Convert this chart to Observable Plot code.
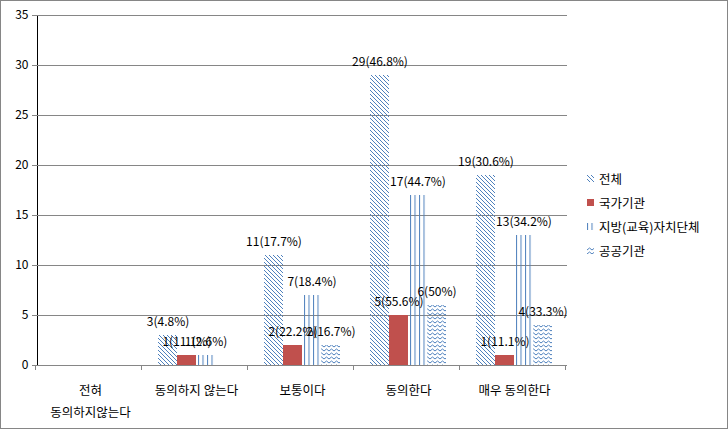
<!DOCTYPE html>
<html><head><meta charset="utf-8">
<script src="https://cdn.jsdelivr.net/npm/d3@7"></script>
<script src="https://cdn.jsdelivr.net/npm/@observablehq/plot@0.6"></script>
<style>
body{margin:0;background:#fff;}
#wrap{position:relative;width:728px;height:429px;font-family:"Noto Sans CJK KR",sans-serif;}
#wrap > svg{display:block;outline:1px solid #868686;outline-offset:-1px;}
#legend{position:absolute;left:587px;top:166px;font-size:12.5px;color:#000;}
#legend .item{display:flex;align-items:center;height:24px;white-space:nowrap;}
#legend .item svg{margin-right:5px;}
g[aria-label^="y-axis"] line, g[aria-label^="y-axis"] path{stroke:#868686;}
g[aria-label^="y-axis"] text{fill:#000;}
</style></head><body>
<svg width="0" height="0" style="position:absolute">
  <defs>
    <pattern id="p-all" patternUnits="userSpaceOnUse" width="4" height="4">
      <path d="M0,0 L4,4 M-1,3 L1,5 M3,-1 L5,1" stroke="#4F81BD" stroke-width="1"/>
    </pattern>
    <pattern id="p-local" patternUnits="userSpaceOnUse" width="4.5" height="4">
      <path d="M0.5,0 V4" stroke="#4F81BD" stroke-width="1"/>
    </pattern>
    <pattern id="p-public" patternUnits="userSpaceOnUse" width="5" height="4">
      <path d="M0,3 L2.5,1 L5,3" fill="none" stroke="#4F81BD" stroke-width="1"/>
    </pattern>
  </defs>
</svg>
<div id="wrap"><div id="legend"></div></div>
<script>
const categories = ["전혀\n동의하지않는다", "동의하지 않는다", "보통이다", "동의한다", "매우 동의한다"];
const seriesNames = ["전체", "국가기관", "지방(교육)자치단체", "공공기관"];
const valTotal    = [0, 3, 11, 29, 19];
const valNational = [0, 1, 2, 5, 1];
const valLocal    = [0, 1, 7, 17, 13];
const valPublic   = [0, 0, 2, 6, 4];
const pctTotal    = [0, 4.8, 17.7, 46.8, 30.6];
const pctNational = [0, 11.1, 22.2, 55.6, 11.1];
const pctLocal    = [0, 2.6, 18.4, 44.7, 34.2];
const pctPublic   = [0, 0, 16.7, 50, 33.3];
const yTicks = [0, 5, 10, 15, 20, 25, 30, 35];
const seriesFills = ["url(#p-all)", "#C0504D", "url(#p-local)", "url(#p-public)"];

const vals = [valTotal, valNational, valLocal, valPublic];
const pcts = [pctTotal, pctNational, pctLocal, pctPublic];
const rows = [];
categories.forEach((cat, i) => {
  seriesNames.forEach((s, j) => {
    rows.push({cat, series: s, value: vals[j][i], pct: pcts[j][i]});
  });
});

const plot = Plot.plot({
  width: 728, height: 429,
  marginLeft: 35, marginRight: 159, marginTop: 15, marginBottom: 64,
  style: {fontFamily: '"Noto Sans CJK KR", sans-serif', fontSize: "12px", color: "#000", background: "#fff", overflow: "visible"},
  facet: {data: rows, x: "cat"},
  fx: {domain: categories, padding: 0, axis: null, label: null},
  x: {domain: seriesNames, paddingInner: 0, paddingOuter: 0.74, axis: null},
  y: {domain: [0, 35], ticks: yTicks, tickSize: 5, tickPadding: 4, label: null, line: true},
  color: {type: "ordinal", domain: seriesNames, range: seriesFills},
  marks: [
    Plot.ruleY(yTicks, {stroke: "#868686"}),
    Plot.barY(rows, {x: "series", y: "value", fill: "series"}),
    Plot.text(rows, {filter: d => d.value > 0, x: "series", y: "value",
      text: d => `${d.value}(${d.pct}%)`, dy: -13, fontSize: 12, fill: "#000"}),
    Plot.text(rows, {filter: d => d.series === seriesNames[0], text: d => d.cat,
      frameAnchor: "bottom", lineAnchor: "top", dy: 14, lineHeight: 1.76, fontSize: 12.5, fill: "#000"})
  ]
});
const wrap = document.getElementById("wrap");
wrap.insertBefore(plot, wrap.firstChild);

// category boundary ticks along the x axis, from the fx scale
try {
  const fx = plot.scale("fx");
  const ys = plot.scale("y");
  const y0 = ys.apply ? ys.apply(0) : 365;
  const r0 = fx.range[0];
  const step = fx.step || ((fx.range[1] - fx.range[0]) / fx.domain.length);
  const g = d3.select(plot).append("g").attr("stroke", "#868686");
  d3.range(fx.domain.length + 1).forEach(i => {
    const x = Math.round(r0 + i * step) + 0.5;
    g.append("line").attr("x1", x).attr("x2", x).attr("y1", y0).attr("y2", y0 + 5);
  });
} catch (e) { console.error(e); }

// legend
const legend = d3.select("#legend");
seriesNames.forEach((s, j) => {
  const item = legend.append("div").attr("class", "item");
  const sw = item.append("svg").attr("width", 7).attr("height", 7);
  sw.append("rect").attr("width", 7).attr("height", 7).attr("fill", seriesFills[j]);
  item.append("span").text(s);
});
</script>
</body></html>
